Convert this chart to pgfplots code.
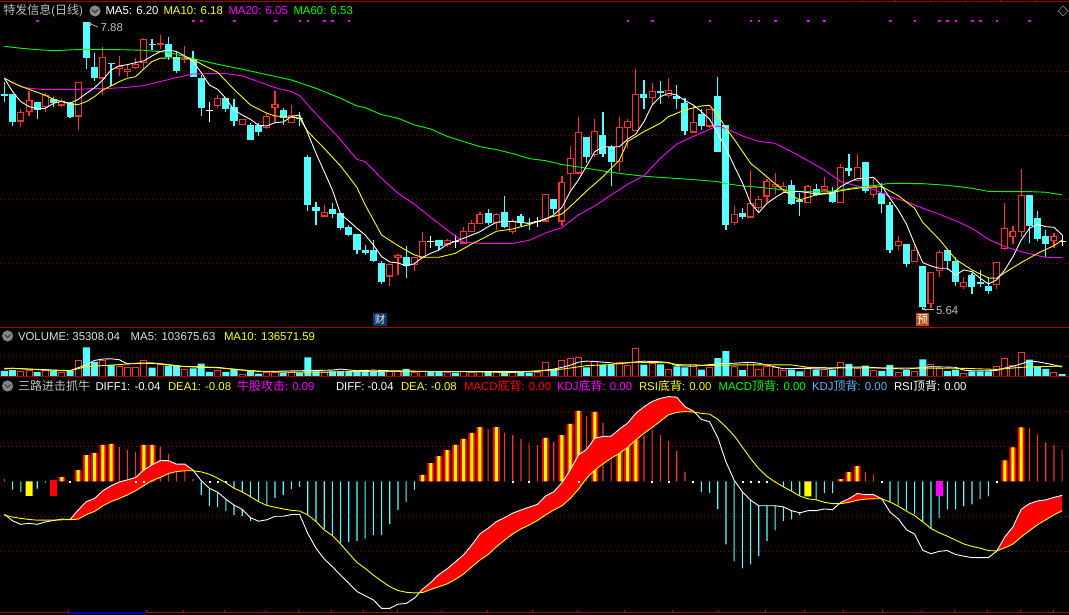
\documentclass[border=0pt]{standalone}
\usepackage{fontspec}
\setmainfont{Liberation Sans}
\newfontfamily\cjk{Noto Sans CJK SC}
\usepackage{pgfplots}
\usepackage{pgfplotstable}
\pgfplotsset{compat=1.18}
\definecolor{cy}{HTML}{54FFFF}
\definecolor{rd}{HTML}{FF3232}
\definecolor{pure}{HTML}{FF0000}
\definecolor{mg}{HTML}{FF00FF}
\definecolor{gn}{HTML}{00FF00}
\definecolor{yl}{HTML}{FFFF00}
\definecolor{gridc}{HTML}{8C0000}
\definecolor{framec}{HTML}{A80000}
\definecolor{lbl}{HTML}{C0C0C0}
\definecolor{kdj}{HTML}{66B3FF}

% candles: i, body top, body bottom, high, low
\pgfplotstableread{
i t b h l
0 7.323 7.310 7.419 7.263
1 7.323 7.107 7.323 7.073
4 7.260 7.198 7.260 7.128
6 7.284 7.250 7.302 7.219
8 7.250 7.146 7.260 7.135
10 7.888 7.604 7.888 7.518
11 7.531 7.448 7.641 7.424
13 7.565 7.557 7.565 7.385
18 7.714 7.706 7.753 7.667
20 7.714 7.609 7.768 7.589
21 7.609 7.503 7.654 7.484
23 7.594 7.456 7.659 7.456
24 7.448 7.216 7.469 7.151
27 7.289 7.206 7.289 7.185
28 7.219 7.115 7.281 7.073
30 7.081 6.964 7.094 6.964
31 7.081 7.026 7.094 6.995
34 7.195 7.135 7.211 7.081
36 7.135 7.127 7.182 7.073
37 6.828 6.456 6.846 6.409
38 6.440 6.409 6.479 6.299
40 6.424 6.385 6.471 6.354
41 6.393 6.276 6.393 6.260
42 6.284 6.221 6.299 6.214
43 6.229 6.104 6.229 6.073
44 6.104 6.083 6.143 6.065
45 6.104 6.018 6.182 6.010
46 6.003 5.854 6.018 5.841
49 6.049 5.977 6.135 5.885
53 6.182 6.135 6.182 6.104
59 6.391 6.315 6.424 6.299
61 6.401 6.284 6.526 6.276
63 6.367 6.315 6.385 6.292
64 6.318 6.310 6.354 6.260
67 6.500 6.424 6.500 6.385
71 6.987 6.831 6.987 6.781
73 7.003 6.854 7.182 6.831
74 6.909 6.792 6.924 6.604
78 7.323 7.292 7.432 7.206
80 7.344 7.331 7.424 7.245
82 7.307 7.284 7.393 7.206
83 7.253 7.034 7.292 7.003
85 7.167 7.073 7.206 7.042
87 7.307 6.870 7.456 6.870
88 7.081 6.299 7.081 6.260
90 6.396 6.359 6.432 6.349
96 6.612 6.464 6.651 6.456
97 6.495 6.479 6.547 6.370
99 6.581 6.534 6.620 6.523
101 6.557 6.479 6.596 6.471
103 6.745 6.721 6.854 6.682
105 6.792 6.568 6.792 6.549
107 6.547 6.464 6.628 6.393
108 6.456 6.104 6.479 6.081
110 6.151 5.995 6.151 5.971
112 5.979 5.659 5.979 5.635
115 6.104 6.018 6.104 5.948
116 6.018 5.854 6.052 5.823
118 5.909 5.815 5.924 5.760
119 5.857 5.841 5.948 5.815
120 5.823 5.784 5.893 5.760
125 6.534 6.292 6.534 6.159
126 6.354 6.190 6.409 6.174
127 6.214 6.151 6.260 6.049
}\downtbl
\pgfplotstableread{
i t b h l
2 7.180 7.107 7.206 7.068
3 7.273 7.180 7.349 7.154
5 7.313 7.219 7.328 7.185
7 7.268 7.232 7.284 7.219
9 7.414 7.146 7.414 7.042
12 7.609 7.443 7.690 7.315
14 7.542 7.516 7.620 7.464
15 7.516 7.497 7.549 7.453
16 7.555 7.523 7.604 7.518
17 7.750 7.563 7.760 7.516
19 7.719 7.703 7.784 7.674
22 7.599 7.586 7.698 7.568
26 7.289 7.227 7.315 7.211
29 7.125 7.078 7.125 7.078
32 7.148 7.055 7.172 7.049
33 7.242 7.211 7.346 7.107
35 7.161 7.099 7.234 7.094
39 6.398 6.365 6.456 6.365
47 5.995 5.896 5.995 5.823
48 6.063 6.044 6.073 5.909
50 6.047 5.987 6.047 5.940
51 6.172 6.039 6.245 6.034
54 6.180 6.146 6.190 6.128
56 6.250 6.154 6.284 6.148
57 6.313 6.247 6.339 6.245
58 6.383 6.310 6.401 6.307
60 6.383 6.315 6.391 6.260
62 6.328 6.247 6.344 6.229
66 6.539 6.326 6.539 6.323
68 6.633 6.326 6.682 6.289
69 6.820 6.698 6.917 6.573
70 7.023 6.701 7.143 6.698
72 7.031 6.846 7.128 6.831
75 7.063 6.794 7.143 6.714
76 7.109 7.060 7.128 6.901
77 7.320 7.036 7.518 7.031
79 7.344 7.289 7.409 7.245
81 7.352 7.310 7.448 7.292
84 7.102 7.021 7.237 7.016
86 7.203 7.068 7.203 7.060
89 6.383 6.313 6.448 6.297
91 6.469 6.357 6.729 6.354
92 6.500 6.432 6.526 6.396
93 6.641 6.521 6.656 6.479
94 6.617 6.599 6.703 6.542
95 6.602 6.570 6.635 6.555
98 6.602 6.471 6.609 6.469
100 6.602 6.568 6.674 6.565
102 6.750 6.474 6.776 6.471
104 6.750 6.643 6.854 6.641
106 6.594 6.536 6.664 6.510
109 6.172 6.135 6.214 6.104
111 6.104 6.010 6.135 6.010
113 5.932 5.682 5.932 5.648
114 6.089 5.940 6.104 5.893
117 5.852 5.815 5.893 5.799
121 6.008 5.833 6.008 5.799
122 6.273 6.109 6.471 6.104
123 6.250 6.206 6.292 6.151
124 6.531 6.245 6.737 6.206
128 6.211 6.172 6.237 6.120
}\uptbl
\pgfplotstableread{
i t b h l
25 7.197 7.189 7.260 7.104
52 6.178 6.170 6.214 6.120
55 6.178 6.170 6.221 6.120
65 6.327 6.319 6.362 6.284
129 6.176 6.168 6.221 6.135
}\dojitbl

% MACD panel: diff and dea
\pgfplotstableread{
i diff dea
0 -0.094 -0.097
1 -0.113 -0.102
2 -0.123 -0.106
3 -0.120 -0.109
4 -0.123 -0.111
5 -0.116 -0.111
6 -0.112 -0.111
7 -0.108 -0.110
8 -0.109 -0.110
9 -0.082 -0.108
10 -0.058 -0.095
11 -0.049 -0.086
12 -0.027 -0.070
13 -0.013 -0.058
14 -0.002 -0.049
15 0.004 -0.039
16 0.011 -0.027
17 0.032 -0.012
18 0.047 0.002
19 0.059 0.011
20 0.059 0.022
21 0.049 0.028
22 0.049 0.030
23 0.032 0.030
24 0.002 0.027
25 -0.020 0.020
26 -0.031 0.009
27 -0.051 -0.004
28 -0.068 -0.020
29 -0.080 -0.030
30 -0.104 -0.044
31 -0.114 -0.058
32 -0.110 -0.069
33 -0.100 -0.074
34 -0.100 -0.079
35 -0.095 -0.083
36 -0.095 -0.085
37 -0.149 -0.096
38 -0.191 -0.115
39 -0.222 -0.139
40 -0.244 -0.155
41 -0.268 -0.179
42 -0.291 -0.206
43 -0.315 -0.232
44 -0.327 -0.249
45 -0.339 -0.268
46 -0.363 -0.285
47 -0.363 -0.301
48 -0.351 -0.312
49 -0.349 -0.317
50 -0.334 -0.319
51 -0.308 -0.318
52 -0.289 -0.309
53 -0.266 -0.301
54 -0.250 -0.293
55 -0.230 -0.280
56 -0.210 -0.265
57 -0.182 -0.244
58 -0.150 -0.225
59 -0.134 -0.209
60 -0.115 -0.187
61 -0.104 -0.168
62 -0.091 -0.150
63 -0.082 -0.136
64 -0.074 -0.125
65 -0.066 -0.112
66 -0.042 -0.096
67 -0.030 -0.082
68 -0.004 -0.070
69 0.032 -0.049
70 0.075 -0.023
71 0.091 0.009
72 0.123 0.032
73 0.128 0.050
74 0.129 0.066
75 0.149 0.080
76 0.166 0.097
77 0.194 0.118
78 0.213 0.137
79 0.228 0.154
80 0.237 0.172
81 0.242 0.190
82 0.240 0.197
83 0.213 0.199
84 0.201 0.198
85 0.177 0.194
86 0.170 0.192
87 0.125 0.177
88 0.055 0.155
89 0.003 0.130
90 -0.030 0.098
91 -0.054 0.065
92 -0.070 0.036
93 -0.070 0.014
94 -0.070 -0.002
95 -0.073 -0.016
96 -0.084 -0.028
97 -0.090 -0.042
98 -0.084 -0.050
99 -0.084 -0.053
100 -0.079 -0.060
101 -0.081 -0.064
102 -0.060 -0.064
103 -0.050 -0.060
104 -0.035 -0.054
105 -0.038 -0.051
106 -0.038 -0.050
107 -0.050 -0.050
108 -0.088 -0.059
109 -0.107 -0.071
110 -0.138 -0.085
111 -0.151 -0.098
112 -0.197 -0.116
113 -0.207 -0.135
114 -0.200 -0.147
115 -0.198 -0.157
116 -0.209 -0.168
117 -0.214 -0.179
118 -0.218 -0.186
119 -0.218 -0.191
120 -0.218 -0.198
121 -0.200 -0.199
122 -0.159 -0.190
123 -0.130 -0.179
124 -0.080 -0.159
125 -0.064 -0.141
126 -0.056 -0.124
127 -0.053 -0.110
128 -0.046 -0.096
129 -0.040 -0.084
}\macdtbl

\pgfplotsset{
  panel/.style={scale only axis, width=1069pt, xmin=-0.5366, xmax=129.83,
    axis line style={draw=none}, xtick=\empty, yticklabels={}, major tick length=0pt,
    ymajorgrids, grid style={gridc, line width=1pt, dash pattern=on 1pt off 3pt},
    anchor=south west},
  ebar/.style 2 args={draw=none, mark=none, forget plot, error bars/.cd, y dir=minus, y explicit,
    error mark=none, error bar style={draw=#1, solid, line width=#2}},
  hbar/.style 2 args={ybar, bar shift=0pt, bar width=#2, draw=none, fill=#1, forget plot},
  ma/.style={#1, line width=0.9pt, no markers, forget plot},
  band/.style={fill=#1, draw=none, forget plot}
}

\begin{document}
\begin{tikzpicture}
\useasboundingbox (0pt,0pt) rectangle (1069pt,615pt);
\fill[black] (0pt,0pt) rectangle (1069pt,615pt);

% price panel
\begin{axis}[panel, at={(0pt,287.5pt)}, height=327.5pt, ymin=5.4984, ymax=8.0570, ytick={6,6.5,7,7.5}]
\addplot[ebar={cy}{1.1pt}] table[x=i,y=h,y error minus expr=\thisrow{h}-\thisrow{l}] {\downtbl};
\addplot[ebar={cy}{7pt}] table[x=i,y=t,y error minus expr=\thisrow{t}-\thisrow{b}] {\downtbl};
\addplot[ebar={rd}{1.1pt}] table[x=i,y=h,y error minus expr=\thisrow{h}-\thisrow{l}] {\uptbl};
\addplot[ebar={rd}{7pt}] table[x=i,y=t,y error minus expr=\thisrow{t}-\thisrow{b}] {\uptbl};
\addplot[ebar={black}{4.8pt}] table[x=i,y expr=\thisrow{t}-0.0086,y error minus expr={max(\thisrow{t}-\thisrow{b}-0.0172,0)}] {\uptbl};
\addplot[ebar={white}{1.1pt}] table[x=i,y=h,y error minus expr=\thisrow{h}-\thisrow{l}] {\dojitbl};
\addplot[ebar={white}{7pt}] table[x=i,y=t,y error minus expr=\thisrow{t}-\thisrow{b}] {\dojitbl};
% MA60
\addplot[ma=gn] coordinates {(0,7.695)(2,7.680)(4,7.669)(6,7.661)(8,7.667)(10,7.672)(14,7.669)(17,7.664)(20,7.648)(23,7.599)(26,7.555)(29,7.516)(32,7.474)(35,7.432)(38,7.367)(41,7.289)(43,7.229)
(44,7.216)(46,7.161)(48,7.133)(50,7.081)(52,7.049)(54,6.992)(56,6.951)(58,6.911)(60,6.888)(62,6.857)(64,6.818)(66,6.802)(68,6.771)(70,6.753)(72,6.732)(74,6.711)(76,6.695)(78,6.680)(81,6.667)(84,6.654)(87,6.638)
(88,6.622)(90,6.604)(92,6.594)(94,6.581)(96,6.565)(98,6.560)(100,6.557)(102,6.573)(104,6.594)(106,6.607)(108,6.625)(112,6.622)(115,6.609)(118,6.586)(120,6.562)(122,6.560)(125,6.560)(127,6.555)(129,6.534)};
% MA20
\addplot[ma=mg] coordinates {(0,7.448)(2,7.380)(3,7.367)(5,7.357)(7,7.359)(9,7.359)(11,7.365)(13,7.367)(15,7.375)(17,7.388)(19,7.419)(21,7.451)(23,7.479)(25,7.482)(27,7.482)(29,7.464)(31,7.419)(33,7.372)(35,7.341)(36,7.310)(38,7.167)(40,7.034)(41,6.964)(43,6.812)
(44,6.794)(46,6.664)(48,6.547)(50,6.461)(52,6.359)(54,6.260)(56,6.164)(58,6.156)(62,6.156)(64,6.180)(66,6.237)(68,6.279)(70,6.378)(72,6.448)(74,6.534)(76,6.617)(78,6.685)(80,6.820)(82,6.932)(84,6.990)(86,7.047)(87,7.073)
(88,7.052)(90,6.995)(92,6.953)(94,6.937)(96,6.872)(98,6.802)(100,6.729)(102,6.638)(104,6.604)(106,6.578)(108,6.521)(110,6.482)(112,6.430)(114,6.383)(116,6.333)(118,6.273)(120,6.188)(122,6.130)(124,6.091)(126,6.060)(127,6.047)(129,6.044)};
% MA10
\addplot[ma=yl] coordinates {(0,7.445)(1,7.411)(2,7.383)(3,7.359)(5,7.313)(6,7.281)(7,7.263)(8,7.245)(9,7.240)(10,7.263)(11,7.302)(12,7.354)(13,7.385)(14,7.419)(15,7.445)(16,7.458)(17,7.518)(18,7.576)(19,7.602)(20,7.604)(22,7.604)(23,7.594)(24,7.557)(26,7.492)(28,7.359)(30,7.237)(32,7.172)(33,7.151)(35,7.141)(36,7.135)(37,7.029)(39,6.898)(41,6.760)(42,6.677)(43,6.591)(44,6.456)
(45,6.339)(46,6.221)(48,6.138)(50,6.065)(51,6.047)(53,6.047)(55,6.078)(57,6.151)(59,6.216)(60,6.250)(62,6.268)(64,6.302)(66,6.349)(68,6.385)(69,6.443)(71,6.565)(73,6.677)(75,6.807)(76,6.951)(78,7.029)(80,7.094)(81,7.146)(83,7.198)(85,7.229)(86,7.234)(87,7.159)
(88,7.055)(89,6.969)(91,6.781)(92,6.729)(94,6.620)(96,6.526)(97,6.495)(99,6.534)(101,6.555)(103,6.578)(105,6.594)(107,6.599)(109,6.529)(111,6.430)(112,6.318)(114,6.188)(116,6.031)(118,5.948)(120,5.885)(121,5.883)(122,5.927)(124,6.005)(126,6.078)(128,6.138)(129,6.182)};
% MA5
\addplot[ma=white] coordinates {(0,7.445)(1,7.341)(2,7.263)(3,7.224)(4,7.208)(5,7.211)(6,7.250)(7,7.266)(8,7.250)(9,7.281)(10,7.328)(11,7.372)(12,7.432)(13,7.510)(14,7.542)(15,7.552)(16,7.568)(17,7.581)(18,7.620)(19,7.654)(20,7.667)(21,7.654)(22,7.620)(23,7.576)(24,7.490)(25,7.393)(26,7.359)(27,7.289)(28,7.198)(29,7.159)(30,7.125)(31,7.078)(32,7.073)(33,7.099)(34,7.104)(35,7.146)(36,7.159)(37,7.016)(38,6.859)(39,6.716)(40,6.573)(41,6.385)(42,6.331)(43,6.273)(44,6.221)
(45,6.143)(46,6.052)(47,6.010)(48,6.003)(49,5.979)(50,5.997)(51,6.047)(52,6.078)(53,6.104)(54,6.148)(55,6.172)(56,6.195)(57,6.221)(58,6.247)(59,6.286)(60,6.320)(61,6.328)(62,6.328)(63,6.318)(64,6.313)(65,6.326)(66,6.344)(67,6.378)(68,6.437)(69,6.560)(70,6.651)(71,6.760)(72,6.872)(73,6.911)(74,6.909)(75,6.911)(76,6.969)(77,7.010)(78,7.107)(79,7.237)(80,7.302)(81,7.328)(82,7.315)(83,7.271)(84,7.237)(85,7.185)(86,7.125)(87,7.016)
(88,6.898)(89,6.760)(90,6.630)(91,6.469)(92,6.396)(93,6.469)(94,6.513)(95,6.552)(96,6.560)(97,6.560)(98,6.552)(99,6.542)(100,6.542)(101,6.547)(102,6.599)(103,6.635)(104,6.661)(105,6.664)(106,6.672)(107,6.604)(108,6.508)(109,6.417)(110,6.307)(111,6.151)(112,6.005)(113,5.979)(114,5.961)(115,5.961)(116,5.909)(117,5.948)(118,5.935)(119,5.883)(120,5.839)(121,5.870)(122,5.948)(123,6.052)(124,6.182)(125,6.273)(126,6.305)(127,6.286)(128,6.281)(129,6.221)};
% signal marks along the top
\addplot[only marks, mark=square*, mark size=0.8pt, mg, forget plot] coordinates {(4,7.895)(23,7.895)(24,7.895)(28,7.895)(33,7.895)(36,7.895)(37,7.895)(39,7.895)(40,7.895)(42,7.895)(76,7.895)(79,7.895)(86,7.895)(91,7.895)(92,7.895)(94,7.895)(98,7.895)(100,7.895)(108,7.895)(111,7.895)(114,7.895)(115,7.895)(116,7.895)(118,7.895)(119,7.895)(121,7.895)(125,7.895)};
\end{axis}

% volume panel, thousands
\begin{axis}[panel, at={(0pt,238pt)}, height=49.5pt, ymin=0, ymax=618.75, ytick={250}]
\addplot[hbar={cy}{7pt}] coordinates {(0,78)(1,86)(4,65)(6,78)(8,78)(10,371)(11,190)(13,151)(18,116)(20,142)(21,138)(23,108)(24,168)(25,65)(27,65)(28,91)(30,82)(31,43)(34,56)(36,56)(37,246)(38,69)(40,69)(41,69)(42,65)(43,73)(44,69)(45,69)(46,73)(49,103)(52,60)(53,60)(55,56)(59,60)(61,78)(63,69)(64,56)(67,99)(71,121)(73,147)(74,147)(78,155)(80,159)(82,134)(83,121)(85,91)(87,237)(88,323)(90,86)(96,91)(97,69)(99,91)(101,91)(103,164)(105,142)(107,78)(108,151)(110,86)(112,220)(115,78)(116,91)(118,69)(119,69)(120,69)(125,216)(126,134)(127,103)(129,35.3)};
\addplot[hbar={black}{6pt}, draw=rd, line width=1pt] coordinates {(2,69)(3,86)(5,78)(7,56)(9,203)(12,211)(14,129)(15,121)(16,121)(17,203)(19,151)(22,99)(26,78)(29,34)(32,52)(33,56)(35,56)(39,52)(47,65)(48,65)(50,52)(51,73)(54,52)(56,69)(57,56)(58,69)(60,52)(62,56)(65,56)(66,177)(68,203)(69,228)(70,241)(72,190)(75,185)(76,142)(77,358)(79,168)(81,99)(84,151)(86,121)(89,129)(91,185)(92,99)(93,129)(94,121)(95,86)(98,121)(100,99)(102,177)(104,112)(106,86)(109,56)(111,65)(113,151)(114,108)(117,47)(121,125)(122,228)(123,138)(124,306)(128,60)};
\addplot[ma=white] coordinates {(0,99)(1,108)(5,91)(8,78)(9,116)(10,155)(11,207)(12,224)(13,228)(14,216)(15,164)(17,172)(19,164)(21,138)(24,121)(26,121)(28,95)(30,78)(32,69)(36,78)(40,86)(41,99)(43,78)(45,86)(47,78)(52,69)(60,69)(64,65)(65,69)(66,86)(67,99)(68,121)(69,147)(70,185)(71,198)(72,194)(74,177)(75,164)(76,177)(78,198)(80,190)(81,181)(82,142)(84,134)(87,164)(89,172)(91,185)(92,172)(95,103)(97,108)(100,99)(102,121)(105,125)(107,112)(110,99)(113,129)(116,121)(117,86)(118,78)(120,78)(121,82)(122,112)(123,134)(124,164)(125,198)(126,190)(127,172)(128,150)(129,125)};
\addplot[ma=yl] coordinates {(0,108)(1,108)(5,86)(8,78)(10,129)(12,142)(14,155)(16,172)(18,177)(20,155)(22,129)(24,129)(28,99)(31,69)(35,60)(39,60)(43,69)(48,69)(54,69)(62,56)(65,78)(67,86)(69,112)(71,142)(74,155)(75,172)(77,185)(81,177)(82,155)(87,142)(89,151)(96,151)(98,121)(102,112)(107,112)(111,112)(117,108)(121,95)(124,121)(129,137)};
\end{axis}

% MACD panel
\begin{axis}[panel, at={(0pt,2.3pt)}, height=235.7pt, ymin=-0.3754, ymax=0.298, ytick={-0.2,-0.1,0.1,0.2}]
\addplot[hbar={cy}{1.1pt}] coordinates {(1,-0.024)(2,-0.031)(4,-0.021)(5,-0.004)(24,-0.039)(25,-0.071)(26,-0.073)(27,-0.085)(28,-0.096)(29,-0.099)(30,-0.113)(31,-0.056)(32,-0.068)(33,-0.048)(34,-0.039)(35,-0.022)(36,-0.016)(37,-0.099)(38,-0.113)(39,-0.136)(40,-0.159)(41,-0.177)(42,-0.173)(43,-0.171)(44,-0.164)(45,-0.153)(46,-0.153)(47,-0.122)(48,-0.082)(49,-0.059)(50,-0.025)(85,-0.031)(86,-0.033)(87,-0.079)(88,-0.180)(89,-0.229)(90,-0.249)(91,-0.237)(92,-0.214)(93,-0.171)(94,-0.140)(95,-0.114)(96,-0.109)(97,-0.097)(99,-0.054)(100,-0.034)(101,-0.034)(108,-0.060)(109,-0.069)(110,-0.083)(111,-0.094)(112,-0.116)(113,-0.135)(114,-0.105)(115,-0.080)(116,-0.080)(117,-0.071)(118,-0.066)(119,-0.051)(120,-0.043)};
\addplot[hbar={rd}{1.1pt}] coordinates {(0,0.006)(14,0.098)(15,0.089)(16,0.084)(19,0.098)(20,0.078)(21,0.028)(22,0.031)(23,0.006)(59,0.149)(61,0.138)(62,0.132)(63,0.121)(64,0.109)(65,0.103)(67,0.112)(71,0.187)(73,0.167)(74,0.114)(78,0.131)(79,0.149)(80,0.132)(81,0.115)(82,0.087)(83,0.027)(105,0.026)(106,0.020)(125,0.151)(126,0.134)(127,0.111)(128,0.103)(129,0.089)};
\addplot[hbar={pure}{7pt}] coordinates {(7,0.012)(9,0.032)(10,0.075)(11,0.081)(12,0.104)(13,0.107)(17,0.104)(18,0.104)(51,0.018)(52,0.052)(53,0.072)(54,0.089)(55,0.104)(56,0.121)(57,0.138)(58,0.155)(60,0.155)(66,0.124)(68,0.132)(69,0.164)(70,0.201)(72,0.198)(75,0.109)(76,0.103)(77,0.120)(102,0.006)(103,0.026)(104,0.043)(122,0.060)(123,0.097)(124,0.154)};
\addplot[hbar={yl}{3pt}] coordinates {(7,0.012)(9,0.032)(10,0.075)(11,0.081)(12,0.104)(13,0.107)(17,0.104)(18,0.104)(51,0.018)(52,0.052)(53,0.072)(54,0.089)(55,0.104)(56,0.121)(57,0.138)(58,0.155)(60,0.155)(66,0.124)(68,0.132)(69,0.164)(70,0.201)(72,0.198)(75,0.109)(76,0.103)(77,0.120)(102,0.006)(103,0.026)(104,0.043)(122,0.060)(123,0.097)(124,0.154)};
\addplot[hbar={yl}{7pt}] coordinates {(3,-0.042)(98,-0.043)};
\addplot[hbar={pure}{7pt}] coordinates {(6,-0.042)(6,0.004)};
\addplot[hbar={mg}{7pt}] coordinates {(114,-0.043)};
% red band where diff is above dea: diff forward, dea back
\addplot[band=pure] coordinates {(8,-0.110)(9,-0.082)(10,-0.058)(11,-0.049)(12,-0.027)(13,-0.013)(14,-0.002)(15,0.004)(16,0.011)(17,0.032)(18,0.047)(19,0.059)(20,0.059)(21,0.049)(22,0.049)(23,0.032)(23.1,0.030)(22,0.030)(21,0.028)(20,0.022)(19,0.011)(18,0.002)(17,-0.012)(16,-0.027)(15,-0.039)(14,-0.049)(13,-0.058)(12,-0.070)(11,-0.086)(10,-0.095)(9,-0.108)} --cycle;
\addplot[band=pure] coordinates {(50.6,-0.318)(51,-0.308)(52,-0.289)(53,-0.266)(54,-0.250)(55,-0.230)(56,-0.210)(57,-0.182)(58,-0.150)(59,-0.134)(60,-0.115)(61,-0.104)(62,-0.091)(63,-0.082)(64,-0.074)(65,-0.066)(66,-0.042)(67,-0.030)(68,-0.004)(69,0.032)(70,0.075)(71,0.091)(72,0.123)(73,0.128)(74,0.129)(75,0.149)(76,0.166)(77,0.194)(78,0.213)(79,0.228)(80,0.237)(81,0.242)(82,0.240)(83,0.213)(84,0.201)(84.2,0.197)(84,0.198)(83,0.199)(82,0.197)(81,0.190)(80,0.172)(79,0.154)(78,0.137)(77,0.118)(76,0.097)(75,0.080)(74,0.066)(73,0.050)(72,0.032)(71,0.009)(70,-0.023)(69,-0.049)(68,-0.070)(67,-0.082)(66,-0.096)(65,-0.112)(64,-0.125)(63,-0.136)(62,-0.150)(61,-0.168)(60,-0.187)(59,-0.209)(58,-0.225)(57,-0.244)(56,-0.265)(55,-0.280)(54,-0.293)(53,-0.301)(52,-0.309)(51,-0.318)} --cycle;
\addplot[band=pure] coordinates {(101.9,-0.064)(102,-0.060)(103,-0.050)(104,-0.035)(105,-0.038)(106,-0.038)(107,-0.050)(106,-0.050)(105,-0.051)(104,-0.054)(103,-0.060)(102,-0.064)} --cycle;
\addplot[band=pure] coordinates {(121,-0.199)(122,-0.159)(123,-0.130)(124,-0.080)(125,-0.064)(126,-0.056)(127,-0.053)(128,-0.046)(129,-0.040)(129,-0.084)(128,-0.096)(127,-0.110)(126,-0.124)(125,-0.141)(124,-0.159)(123,-0.179)(122,-0.190)} --cycle;
% black band where diff is below dea, it hides the bars behind it
\addplot[band=black] coordinates {(0,-0.094)(1,-0.113)(2,-0.123)(3,-0.120)(4,-0.123)(5,-0.116)(6,-0.112)(6.5,-0.110)(6,-0.111)(5,-0.111)(4,-0.111)(3,-0.109)(2,-0.106)(1,-0.102)} --cycle;
\addplot[band=black] coordinates {(23.1,0.030)(24,0.002)(25,-0.020)(26,-0.031)(27,-0.051)(28,-0.068)(29,-0.080)(30,-0.104)(31,-0.114)(32,-0.110)(33,-0.100)(34,-0.100)(35,-0.095)(36,-0.095)(37,-0.149)(38,-0.191)(39,-0.222)(40,-0.244)(41,-0.268)(42,-0.291)(43,-0.315)(44,-0.327)(45,-0.339)(46,-0.363)(47,-0.363)(48,-0.351)(49,-0.349)(50,-0.334)(50.6,-0.318)(50,-0.319)(49,-0.317)(48,-0.312)(47,-0.301)(46,-0.285)(45,-0.268)(44,-0.249)(43,-0.232)(42,-0.206)(41,-0.179)(40,-0.155)(39,-0.139)(38,-0.115)(37,-0.096)(36,-0.085)(35,-0.083)(34,-0.079)(33,-0.074)(32,-0.069)(31,-0.058)(30,-0.044)(29,-0.030)(28,-0.020)(27,-0.004)(26,0.009)(25,0.020)(24,0.027)} --cycle;
\addplot[band=black] coordinates {(84.2,0.197)(85,0.177)(86,0.170)(87,0.125)(88,0.055)(89,0.003)(90,-0.030)(91,-0.054)(92,-0.070)(93,-0.070)(94,-0.070)(95,-0.073)(96,-0.084)(97,-0.090)(98,-0.084)(99,-0.084)(100,-0.079)(101,-0.081)(101.9,-0.064)(101,-0.064)(100,-0.060)(99,-0.053)(98,-0.050)(97,-0.042)(96,-0.028)(95,-0.016)(94,-0.002)(93,0.014)(92,0.036)(91,0.065)(90,0.098)(89,0.130)(88,0.155)(87,0.177)(86,0.192)(85,0.194)} --cycle;
\addplot[band=black] coordinates {(107,-0.050)(108,-0.088)(109,-0.107)(110,-0.138)(111,-0.151)(112,-0.197)(113,-0.207)(114,-0.200)(115,-0.198)(116,-0.209)(117,-0.214)(118,-0.218)(119,-0.218)(120,-0.218)(121,-0.199)(120,-0.198)(119,-0.191)(118,-0.186)(117,-0.179)(116,-0.168)(115,-0.157)(114,-0.147)(113,-0.135)(112,-0.116)(111,-0.098)(110,-0.085)(109,-0.071)(108,-0.059)} --cycle;
\addplot[only marks, mark=square*, mark size=0.5pt, white, forget plot] coordinates {(8,0)(16,0)(17,0)(25,0)(26,0)(27,0)(62,0)(64,0)(70,0)(79,0)(81,0)(84,0)(90,0)(91,0)(92,0)(93,0)(107,0)(121,0)};
\addplot[ma=white] table[x=i,y=diff] {\macdtbl};
\addplot[ma=yl] table[x=i,y=dea] {\macdtbl};
\end{axis}

% frame, header rows and tags, in reference pixels
\begin{scope}[x=1pt, y=-1pt, yshift=615pt]
\draw[framec, line width=1pt] (0,1.5)--(1069,1.5);
\draw[framec, line width=1pt] (0,327.5)--(1069,327.5);
\draw[framec, line width=1pt] (0,377)--(1069,377);
\draw[framec!80!red, line width=1.2pt] (0,612.7)--(1069,612.7);
\draw[blue!70!black, line width=1.2pt] (68,613)--(146,613);
\foreach \x in {68,146,183,224,265,298,331,363,397,441,487,532,577,624,672,718,765,804,843,882,921,954,987,1020,1053}
  \draw[framec!80!red, line width=0.8pt] (\x,610.5)--(\x,612.7);
\foreach \x in {862,895,930,965,1000,1035}
  \draw[framec, line width=0.8pt] (\x,0)--(\x,1.5);
\draw[lbl!70!black, line width=0.7pt] (1063,6)--(1068,11)--(1063,16)--(1058,11)--cycle;

\tikzset{txt/.style={anchor=base west, inner sep=0pt, outer sep=0pt, font=\fontsize{11.4}{12}\selectfont}}
\newcommand{\cj}[1]{{\cjk\fontsize{12}{12}\selectfont #1}}
\newcommand{\icon}[2]{\fill[lbl!70!black] (#1,#2) circle (5.6pt);
  \draw[black!75, line width=1.1pt] (#1-3,#2-1.5)--(#1,#2+1.5)--(#1+3,#2-1.5);}

\node[txt, text=lbl] at (3.3,14.7) {\cj{特发信息}(\cj{日线})};
\icon{95}{11}
\node[txt, text=white] at (105.5,14.7) {MA5: 6.20};
\node[txt, text=yl] at (163.5,14.7) {MA10: 6.18};
\node[txt, text=mg] at (228.5,14.7) {MA20: 6.05};
\node[txt, text=gn] at (293.5,14.7) {MA60: 6.53};

\draw[lbl, line width=0.7pt, ->, >=stealth] (98,27)--(88,23);
\node[txt, text=lbl] at (100.7,32) {7.88};
\draw[lbl, line width=0.7pt, ->, >=stealth] (934,309)--(922,309);
\node[txt, text=lbl] at (936,314.7) {5.64};

\node[fill={rgb,255:red,13;green,56;blue,104}, minimum width=14pt, minimum height=13pt, inner sep=0pt, text=white!85!cyan, font=\cjk\fontsize{10.5}{11}\selectfont] at (380,319.8) {财};
\node[fill={rgb,255:red,190;green,80;blue,25}, minimum width=13pt, minimum height=13pt, inner sep=0pt, text=white, font=\cjk\fontsize{11}{11}\selectfont] at (922.5,319.8) {预};

\icon{7.6}{336}
\node[txt, text=white!88!black] at (18,340.5) {VOLUME: 35308.04};
\node[txt, text=white!88!black] at (130.7,340.5) {MA5: 103675.63};
\node[txt, text=yl] at (224,340.5) {MA10: 136571.59};

\icon{7.6}{386}
\node[txt, text=lbl] at (18,391) {\cj{三路进击抓牛}};
\node[txt, text=white] at (95.5,391) {DIFF1: -0.04};
\node[txt, text=yl] at (168,391) {DEA1: -0.08};
\node[txt, text=mg] at (237,391) {\cj{牛股攻击}: 0.09};
\node[txt, text=white] at (336,391) {DIFF: -0.04};
\node[txt, text=yl] at (401,391) {DEA: -0.08};
\node[txt, text=pure] at (464,391) {MACD\cj{底背}: 0.00};
\node[txt, text=mg] at (557,391) {KDJ\cj{底背}: 0.00};
\node[txt, text=yl] at (639,391) {RSI\cj{底背}: 0.00};
\node[txt, text=gn] at (718.6,391) {MACD\cj{顶背}: 0.00};
\node[txt, text=kdj] at (812,391) {KDJ\cj{顶背}: 0.00};
\node[txt, text=white] at (894,391) {RSI\cj{顶背}: 0.00};
\end{scope}
\end{tikzpicture}
\end{document}
